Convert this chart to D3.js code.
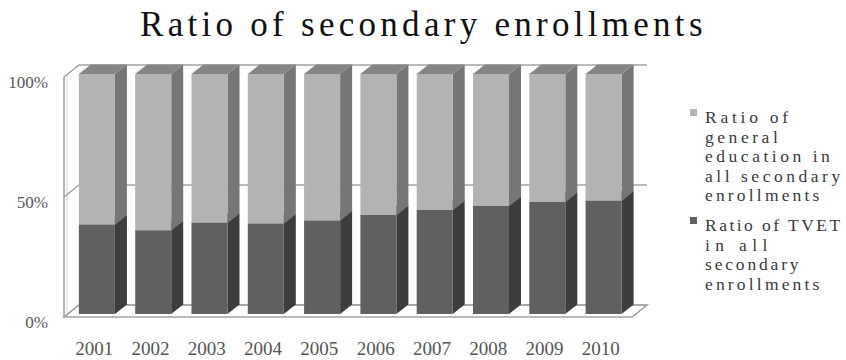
<!DOCTYPE html>
<html>
<head>
<meta charset="utf-8">
<script src="https://cdn.jsdelivr.net/npm/d3@7"></script>
<style>
  html, body { margin: 0; padding: 0; background: #ffffff; }
  svg { display: block; }
  text { font-family: "Liberation Serif", "DejaVu Serif", serif; }
</style>
</head>
<body>
<svg id="chart" width="846" height="360"></svg>
<script>
// Share of secondary enrollments, percent of total
const years = ["2001", "2002", "2003", "2004", "2005", "2006", "2007", "2008", "2009", "2010"];
const tvetShare = [37.3, 34.9, 38.0, 37.7, 39.0, 41.2, 43.3, 45.0, 46.7, 47.2];
const generalShare = [62.7, 65.1, 62.0, 62.3, 61.0, 58.8, 56.7, 55.0, 53.3, 52.8];
const yTicks = [0, 50, 100];
const tickLabels = ["0%", "50%", "100%"];
const legendLines = [
  ["Ratio of", "general", "education in", "all secondary", "enrollments"],
  ["Ratio of TVET", "in all", "secondary", "enrollments"]
];

const svg = d3.select("#chart");

// Fixed-pitch text: spread each string to a set advance per character
const pitch = (sel, w) => sel
  .attr("textLength", function () { return this.textContent.length * w; })
  .attr("lengthAdjust", "spacing");

// Oblique projection: depth z in [0,1] shifts right and up
const DX = 15, DY = -12;
const wallX0 = 64, wallX1 = 632;

const x = d3.scaleBand().domain(years).range([65, 628]).paddingInner(0.36).paddingOuter(0.18);
const y = d3.scaleLinear().domain([0, 100]).range([317, 77]);

const P = (px, v, z) => [px + z * DX, y(v) + z * DY];
const poly = pts => pts.map(p => p.join(",")).join(" ");

// --- walls ---
const wallStroke = "#a3a3a3";
const walls = svg.append("g").attr("fill", "none").attr("stroke", wallStroke).attr("stroke-width", 1.6);

// floor outline
walls.append("polygon").attr("points", poly([
  P(wallX0, 0, 0), P(wallX1, 0, 0), P(wallX1, 0, 1), P(wallX0, 0, 1)
])).attr("fill", "#ffffff");

// left wall front edge
walls.append("line")
  .attr("x1", wallX0).attr("y1", y(0)).attr("x2", wallX0).attr("y2", y(100));
walls.append("line")
  .attr("x1", wallX0 + 3).attr("y1", y(0) - 2).attr("x2", wallX0 + 3).attr("y2", y(100) - 2)
  .attr("stroke", "#d6d6d6").attr("stroke-width", 1);

// gridlines: across the left wall, then along the back wall
yTicks.forEach(t => {
  const a = P(wallX0, t, 0), b = P(wallX0, t, 1), c = P(wallX1, t, 1);
  walls.append("polyline").attr("points", poly([a, b, c]));
});

// --- stacked bars ---
const rows = years.map((yr, i) => ({ year: yr, tvet: tvetShare[i], general: generalShare[i] }));
const layers = d3.stack().keys(["tvet", "general"])(rows);

const faceColors = {
  tvet: { front: "#606060", side: "#3d3d3d", top: "#4a4a4a" },
  general: { front: "#b3b3b3", side: "#767676", top: "#858585" }
};

const zf = 0.25, zb = 1.05;
const bw = x.bandwidth();

const barsG = svg.append("g");
years.forEach((yr, i) => {
  const g = barsG.append("g").attr("class", "bar");
  layers.forEach(layer => {
    const [v0, v1] = layer[i];
    const xl = x(yr), xr = x(yr) + bw;
    const c = faceColors[layer.key];
    g.append("polygon").attr("fill", c.side).attr("points", poly([
      P(xr, v0, zf), P(xr, v0, zb), P(xr, v1, zb), P(xr, v1, zf)
    ]));
    g.append("polygon").attr("fill", c.top).attr("points", poly([
      P(xl, v1, zf), P(xl, v1, zb), P(xr, v1, zb), P(xr, v1, zf)
    ]));
    g.append("polygon").attr("fill", c.front).attr("points", poly([
      P(xl, v0, zf), P(xr, v0, zf), P(xr, v1, zf), P(xl, v1, zf)
    ]));
  });
});

// --- axis labels ---
const axisColor = "#555555";
svg.append("g").selectAll("text").data(yTicks).join("text")
  .attr("x", 48).attr("y", d => y(d) + 5)
  .attr("dy", "0.35em")
  .attr("text-anchor", "end")
  .attr("font-size", 17)
  .attr("fill", axisColor)
  .text((d, i) => tickLabels[i]);

svg.append("g").selectAll("text").data(years).join("text")
  .attr("x", d => x(d) + bw / 2 - 18)
  .attr("y", 355)
  .attr("font-size", 19)
  .attr("fill", axisColor)
  .text(d => d)
  .call(pitch, 9.5);

// --- title ---
svg.append("text")
  .attr("x", 140).attr("y", 36)
  .attr("font-size", 35)
  .attr("fill", "#111111")
  .text("Ratio of secondary enrollments")
  .call(pitch, 18.75);

// --- legend ---
const legend = svg.append("g").attr("font-size", 17.5).attr("fill", "#3a3a3a");
const legendEntries = [
  { key: "general", y0: 117, lines: legendLines[0] },
  { key: "tvet", y0: 225, lines: legendLines[1] }
];
legendEntries.forEach(e => {
  legend.append("rect")
    .attr("x", 690).attr("y", e.y0 - 8).attr("width", 7).attr("height", 7)
    .attr("fill", faceColors[e.key].front);
  e.lines.forEach((ln, j) => {
    legend.append("text")
      .attr("x", 705).attr("y", e.y0 + j * 19.5)
      .attr("dy", "0.35em")
      .text(ln)
      .call(pitch, 10.4);
  });
});
</script>
</body>
</html>
